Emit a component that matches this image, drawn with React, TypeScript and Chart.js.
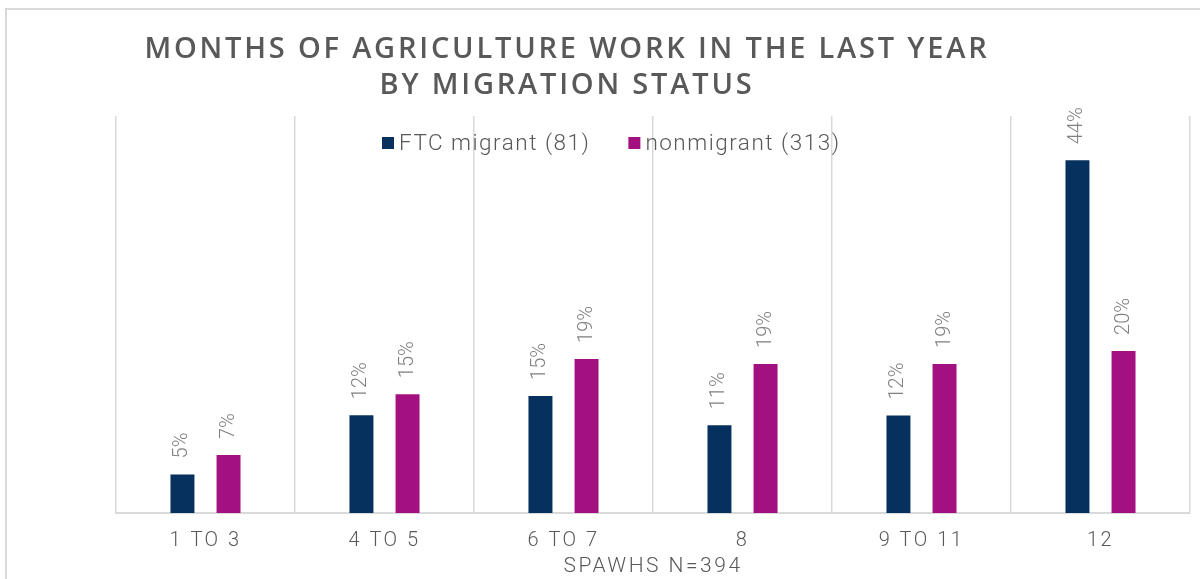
import React, { useEffect, useRef } from "react";
import { Chart, registerables } from "chart.js";

Chart.register(...registerables);

const categories = ["1 TO 3", "4 TO 5", "6 TO 7", "8", "9 TO 11", "12"];
const ftcMigrant = [4.83, 12.25, 14.66, 11.0, 12.2, 44.16];
const nonmigrant = [7.25, 14.88, 19.29, 18.66, 18.66, 20.29];
const seriesLabels = ["FTC migrant (81)", "nonmigrant (313)"];
const seriesColors = ["#06305E", "#A3107F"];
const titleLines = ["MONTHS OF AGRICULTURE WORK IN THE LAST YEAR", "BY MIGRATION STATUS"];
const axisTitle = "SPAWHS N=394";
const yMax = 49.7;

const GREY = "#595959";
const LABEL_GREY = "#808080";
const GRID = "#d9d9d9";

const decorPlugin = {
  id: "decor",
  beforeDraw(chart: any) {
    chart.ctx.letterSpacing = "2.5px";
  },
  beforeDatasetsDraw(chart: any) {
    chart.ctx.letterSpacing = "0px";
  },
  afterDatasetsDraw(chart: any) {
    const ctx = chart.ctx;
    ctx.save();
    ctx.letterSpacing = "0px";
    ctx.font = "300 20px Roboto";
    ctx.fillStyle = LABEL_GREY;
    ctx.textAlign = "left";
    ctx.textBaseline = "middle";
    chart.data.datasets.forEach((ds: any, i: number) => {
      const meta = chart.getDatasetMeta(i);
      meta.data.forEach((el: any, j: number) => {
        const v = ds.data[j];
        ctx.save();
        ctx.translate(el.x, el.y - 16);
        ctx.rotate(-Math.PI / 2);
        ctx.fillText(Math.round(v) + "%", 0, 0);
        ctx.restore();
      });
    });
    ctx.restore();
  },
  afterDraw(chart: any) {
    const ctx = chart.ctx;
    ctx.save();
    // outer frame
    ctx.strokeStyle = GRID;
    ctx.lineWidth = 2;
    ctx.strokeRect(6, 9, 1210, 600);

    // title
    ctx.letterSpacing = "2.8px";
    ctx.font = "600 29px 'Open Sans'";
    ctx.fillStyle = GREY;
    ctx.textAlign = "center";
    ctx.textBaseline = "alphabetic";
    ctx.fillText(titleLines[0], 567, 58);
    ctx.fillText(titleLines[1], 567, 94);

    // legend
    ctx.letterSpacing = "1.5px";
    ctx.font = "300 22.5px Roboto";
    ctx.textAlign = "left";
    ctx.textBaseline = "middle";
    let x = 382;
    const y = 143;
    seriesLabels.forEach((lab, i) => {
      ctx.fillStyle = seriesColors[i];
      ctx.fillRect(x, y - 6, 12, 12);
      x += 17;
      ctx.fillStyle = GREY;
      ctx.fillText(lab, x, y + 1);
      x += ctx.measureText(lab).width + 38;
    });
    ctx.restore();
  },
};

export default function App() {
  const canvasRef = useRef<HTMLCanvasElement | null>(null);

  useEffect(() => {
    if (!canvasRef.current) return;
    const chart = new Chart(canvasRef.current, {
      type: "bar",
      data: {
        labels: categories,
        datasets: [
          {
            label: seriesLabels[0],
            data: ftcMigrant,
            backgroundColor: seriesColors[0],
            categoryPercentage: 0.515,
            barPercentage: 0.52,
          },
          {
            label: seriesLabels[1],
            data: nonmigrant,
            backgroundColor: seriesColors[1],
            categoryPercentage: 0.515,
            barPercentage: 0.52,
          },
        ],
      },
      options: {
        responsive: false,
        devicePixelRatio: 1,
        animation: false,
        layout: { padding: { left: 116, right: 10, top: 116, bottom: 0 } },
        plugins: {
          legend: { display: false },
          title: { display: false },
          tooltip: { enabled: false },
        },
        scales: {
          x: {
            grid: { offset: true, color: GRID, lineWidth: 1.5, drawTicks: false },
            border: { display: true, color: GRID, width: 2 },
            ticks: {
              color: GREY,
              font: { family: "Roboto", size: 20, weight: "300" },
              padding: 16,
              maxRotation: 0,
              autoSkip: false,
            },
            title: {
              display: true,
              text: axisTitle,
              color: GREY,
              font: { family: "Roboto", size: 21, weight: "300" },
              padding: { top: 0, bottom: 0 },
            },
            afterFit: (scale: any) => {
              scale.height = 66;
            },
          },
          y: { display: false, min: 0, max: yMax },
        },
      },
      plugins: [decorPlugin],
    });
    return () => chart.destroy();
  }, []);

  return (
    <div style={{ position: "fixed", left: 0, top: 0, width: 1200, height: 579, background: "#fff" }}>
      <canvas ref={canvasRef} width={1200} height={579} style={{ display: "block" }} />
    </div>
  );
}
